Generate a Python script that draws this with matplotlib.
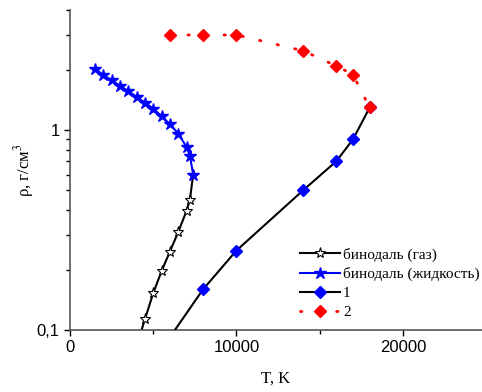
import matplotlib.pyplot as plt
from matplotlib.ticker import FixedLocator, LogLocator, NullFormatter, FuncFormatter

plt.rcParams['font.family'] = ['Liberation Sans', 'DejaVu Sans']
plt.rcParams['mathtext.fontset'] = 'stix'

# binodal, gas branch (last point = critical point)
T_gas = [4300, 4500, 5000, 5500, 6000, 6500, 7000, 7200, 7400]
rho_gas = [0.1, 0.113, 0.153, 0.197, 0.247, 0.309, 0.395, 0.448, 0.60]

# binodal, liquid branch
T_liq = [1500, 2000, 2500, 3000, 3500, 4000, 4500, 5000, 5500, 6000, 6500, 7000, 7200, 7400]
rho_liq = [2.03, 1.89, 1.78, 1.67, 1.57, 1.47, 1.375, 1.284, 1.175, 1.072, 0.963, 0.825, 0.747, 0.60]

# series 1
T_1 = [6000, 8000, 10000, 14000, 16000, 17000, 18000]
rho_1 = [0.092, 0.16, 0.25, 0.50, 0.70, 0.90, 1.30]

# series 2
T_2 = [6000, 8000, 10000, 14000, 16000, 17000, 18000]
rho_2 = [3.0, 3.0, 3.0, 2.5, 2.1, 1.9, 1.30]

fig = plt.figure(figsize=(4.82, 3.92), dpi=100)
ax = fig.add_axes([70/482, 62/392, 412/482, 320/392])

ax.plot(T_gas[1:], rho_gas[1:], color='black', lw=1.5, marker='*', ms=8,
        mfc='white', mec='black', mew=0.8, label='бинодаль (газ)', zorder=3)
ax.plot(T_gas[:2], rho_gas[:2], color='black', lw=1.5, zorder=2)
ax.plot(T_liq, rho_liq, color='blue', lw=1.5, marker='*', ms=9,
        mfc='blue', mec='blue', label='бинодаль (жидкость)', zorder=4)
ax.plot(T_1, rho_1, color='black', lw=1.5, marker='D', ms=6.5,
        mfc='blue', mec='blue', label='1', zorder=3)
ax.plot(T_2, rho_2, color='red', lw=2, ls=(0, (0.5, 6)), dash_capstyle='round',
        marker='D', ms=6.5, mfc='red', mec='red', label='2', zorder=5)

ax.set_yscale('log')
ax.set_xlim(0, 24750)
ax.set_ylim(0.1, 4)

ax.xaxis.set_major_locator(FixedLocator([0, 10000, 20000]))
ax.xaxis.set_minor_locator(FixedLocator([5000, 15000]))
ax.yaxis.set_major_locator(FixedLocator([0.1, 1]))
ax.yaxis.set_minor_locator(LogLocator(base=10, subs=range(2, 10)))
ax.yaxis.set_minor_formatter(NullFormatter())
ax.yaxis.set_major_formatter(FuncFormatter(lambda v, p: '0,1' if v < 0.5 else '1'))
ax.xaxis.set_major_formatter(FuncFormatter(lambda v, p: '%d' % v))

for s in ['top', 'right']:
    ax.spines[s].set_visible(False)
for s in ['left', 'bottom']:
    ax.spines[s].set_color('#555555')
    ax.spines[s].set_linewidth(1.2)

ax.tick_params(which='major', direction='out', length=4, width=1, labelsize=12)
ax.tick_params(which='minor', direction='out', length=3, width=1)

ax.set_xlabel('T, K', family='Liberation Serif', fontsize=12, labelpad=11)
ax.set_ylabel('ρ, г/см$^3$', family='Liberation Serif', fontsize=12)
ax.yaxis.set_label_coords(-0.082, 0.5)

ax.legend(loc='lower right', bbox_to_anchor=(1.02, 0.0), frameon=False,
          prop={'family': 'Liberation Serif', 'size': 11}, handlelength=2.6,
          handletextpad=0.2, labelspacing=0.35, borderaxespad=0.3)

fig.savefig('out.png', dpi=100)
